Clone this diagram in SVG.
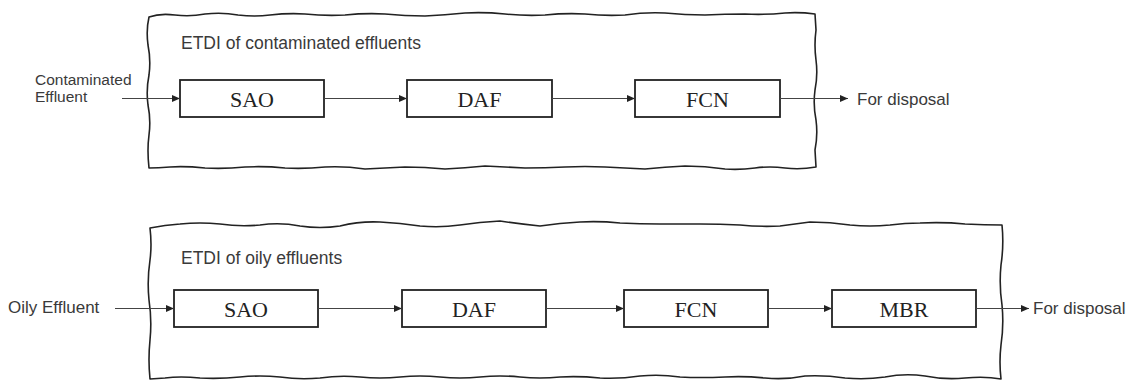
<svg xmlns="http://www.w3.org/2000/svg" width="1129" height="380" viewBox="0 0 1129 380">
  <style>
    .frame { fill: none; stroke: #222; stroke-width: 1.6; stroke-linejoin: round; }
    .box rect { fill: #fff; stroke: #222; stroke-width: 1.8; }
    .box text { font-family: "Liberation Serif", "Times New Roman", serif; font-size: 22px; fill: #222; text-anchor: middle; }
    .lbl { font-family: "Liberation Sans", Arial, sans-serif; font-size: 17px; fill: #3a3a3a; }
    .title { font-size: 17.5px; }
    .small { font-size: 15.5px; }
    .conn { fill: none; stroke: #444; stroke-width: 1.1; marker-end: url(#arrow); }
  </style>
  <defs>
    <marker id="arrow" markerUnits="userSpaceOnUse" markerWidth="9" markerHeight="8" refX="8" refY="3.5" orient="auto">
      <path d="M0,0 L8,3.5 L0,7 z" fill="#222"/>
    </marker>
  </defs>
  <rect width="1129" height="380" fill="#fff"/>

  <!-- upper plant: contaminated effluents -->
  <g id="frame-contaminated">
    <path class="frame" d="M149,17 Q160,13 175,15 Q190,17 205,14 Q222,12 238,15 Q255,17 270,15 Q288,13 305,14 Q325,16 345,15 Q365,13 385,14 Q405,16 425,16 Q445,15 465,13 Q485,12 505,14 Q525,16 545,15 Q565,13 585,14 Q605,16 625,15 Q645,12 665,13 Q685,15 705,15 Q725,14 745,14 Q765,15 785,13 Q800,12 815,14 L816,30 Q814,45 816,60 Q818,75 815,90 Q813,105 816,120 Q818,135 815,150 L816,167 Q800,170 785,168 Q770,166 755,168 Q740,170 725,169 Q705,166 685,166 Q665,167 645,169 Q625,168 605,167 Q585,166 565,167 Q545,168 525,168 Q505,167 485,166 Q465,168 445,169 Q425,167 405,167 Q385,168 365,169 Q345,166 325,167 Q305,169 285,168 Q265,166 245,167 Q225,169 205,168 Q185,166 170,167 Q158,168 149,168 Q147,150 149,135 Q151,120 148,105 Q146,90 149,75 Q151,60 148,45 Q146,30 149,17 Z"/>
    <text class="lbl title" x="181" y="49">ETDI of contaminated effluents</text>
  </g>
  <g id="in-contaminated">
    <text class="lbl small" x="35" y="85">Contaminated</text>
    <text class="lbl small" x="35" y="102">Effluent</text>
  </g>
  <g id="sao-1" class="box"><rect x="180" y="80" width="144" height="37"/><text x="252" y="107">SAO</text></g>
  <g id="daf-1" class="box"><rect x="407" y="80" width="145" height="37"/><text x="479.5" y="107">DAF</text></g>
  <g id="fcn-1" class="box"><rect x="635" y="80" width="145" height="37"/><text x="707.5" y="107">FCN</text></g>
  <g id="out-1"><text class="lbl" x="857" y="105">For disposal</text></g>

  <!-- lower plant: oily effluents -->
  <g id="frame-oily">
    <path class="frame" d="M150,228 Q165,225 180,224 Q200,222 220,224 Q240,227 260,225 Q280,222 300,226 Q320,229 340,226 Q360,221 380,222 Q400,223 420,226 Q440,228 460,225 Q480,222 500,221 Q520,224 540,226 Q560,223 580,222 Q600,221 620,223 Q640,224 660,224 Q680,224 700,224 Q720,224 740,225 Q760,227 780,226 Q795,224 810,222 Q830,222 850,225 Q870,227 890,225 Q905,223 920,223 Q945,222 965,224 Q985,225 1002,225 Q1004,245 1001,265 Q999,285 1002,305 Q1004,325 1001,345 Q999,362 1001,379 Q985,376 965,378 Q945,380 925,376 Q905,373 885,377 Q865,380 845,378 Q825,375 805,376 Q785,380 765,378 Q745,376 725,377 Q700,378 680,377 Q660,374 640,376 Q620,379 600,378 Q580,376 560,377 Q540,379 520,377 Q500,375 480,377 Q460,379 440,377 Q420,375 400,377 Q380,379 360,377 Q340,375 320,378 Q300,380 280,377 Q260,375 240,377 Q220,379 200,378 Q180,376 165,378 L150,379 Q148,360 150,340 Q152,320 149,300 Q147,280 150,260 Q152,245 150,228 Z"/>
    <text class="lbl title" x="181" y="264">ETDI of oily effluents</text>
  </g>
  <g id="in-oily"><text class="lbl" x="8" y="313">Oily Effluent</text></g>
  <g id="sao-2" class="box"><rect x="174" y="290" width="144" height="37"/><text x="246" y="317">SAO</text></g>
  <g id="daf-2" class="box"><rect x="402" y="290" width="144" height="37"/><text x="474" y="317">DAF</text></g>
  <g id="fcn-2" class="box"><rect x="624" y="290" width="144" height="37"/><text x="696" y="317">FCN</text></g>
  <g id="mbr-2" class="box"><rect x="832" y="290" width="144" height="37"/><text x="904" y="317">MBR</text></g>
  <g id="out-2"><text class="lbl" x="1033" y="314">For disposal</text></g>

  <!-- flow connectors -->
  <g id="connectors">
    <path class="conn" d="M122,98.5 H180"/>
    <path class="conn" d="M324,98.5 H407"/>
    <path class="conn" d="M552,98.5 H635"/>
    <path class="conn" d="M780,98.5 H848"/>
    <path class="conn" d="M115,308.5 H174"/>
    <path class="conn" d="M318,308.5 H402"/>
    <path class="conn" d="M546,308.5 H624"/>
    <path class="conn" d="M768,308.5 H832"/>
    <path class="conn" d="M976,308.5 H1029"/>
  </g>
</svg>
